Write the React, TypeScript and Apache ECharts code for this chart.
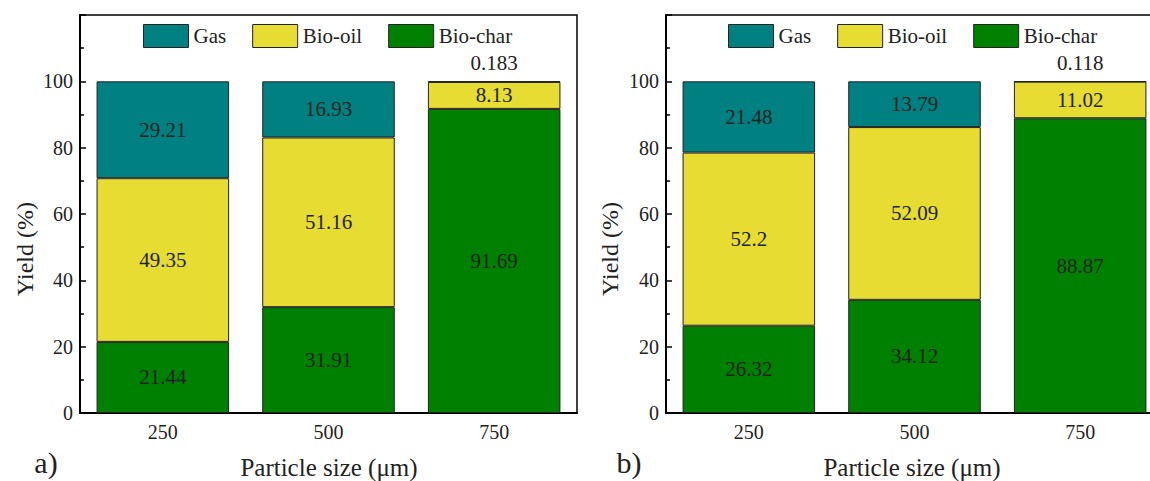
import React, { useEffect, useRef } from "react";
import * as echarts from "echarts";

const categories = ["250", "500", "750"];
const seriesNames = ["Gas", "Bio-oil", "Bio-char"];
const yTicks = [0, 20, 40, 60, 80, 100];

// panel a)
const charA = [21.44, 31.91, 91.69];
const oilA = [49.35, 51.16, 8.13];
const gasA = [29.21, 16.93, 0.183];
// panel b)
const charB = [26.32, 34.12, 88.87];
const oilB = [52.2, 52.09, 11.02];
const gasB = [21.48, 13.79, 0.118];

const COLORS: Record<string, string> = {
  Gas: "#008080",
  "Bio-oil": "#e6dc32",
  "Bio-char": "#008000",
};
const FONT = "Liberation Serif";

function App() {
  const ref = useRef<HTMLDivElement>(null);
  useEffect(() => {
    if (!ref.current) return;
    const chart = echarts.init(ref.current, null, { renderer: "svg" });

    const grids = [
      { left: 80, top: 15, width: 497, height: 398 },
      { left: 666, top: 15, width: 497, height: 398 },
    ];

    const xAxis = grids.map((_, i) => ({
      type: "category",
      gridIndex: i,
      data: categories,
      axisLine: { show: true, lineStyle: { color: "#000", width: 2 } },
      axisTick: { show: false },
      axisLabel: { fontFamily: FONT, fontSize: 20, color: "#222", margin: 9 },
    }));

    const yAxis = grids.map((_, i) => ({
      type: "value",
      gridIndex: i,
      min: 0,
      max: 120,
      interval: 20,
      splitLine: { show: false },
      axisLine: { show: true, lineStyle: { color: "#000", width: 2 } },
      axisTick: { show: true, inside: true, length: 6, lineStyle: { color: "#000", width: 1.5 } },
      minorTick: { show: true, splitNumber: 2, length: 4, lineStyle: { color: "#000", width: 1.5 } },
      axisLabel: {
        fontFamily: FONT,
        fontSize: 20,
        color: "#222",
        margin: 7,
        formatter: (v: number) => (yTicks.includes(v) ? String(v) : ""),
      },
    }));

    const labelBase = {
      show: true,
      position: "inside",
      fontFamily: FONT,
      fontSize: 21,
      color: "#222",
    };

    const mkGas = (arr: number[]) =>
      arr.map((v) =>
        v < 1 ? { value: v, label: { position: "top", distance: 8 } } : v
      );

    const panelData = [
      { char: charA, oil: oilA, gas: gasA },
      { char: charB, oil: oilB, gas: gasB },
    ];

    const series: any[] = [];
    panelData.forEach((p, i) => {
      const common = {
        type: "bar",
        stack: "s" + i,
        xAxisIndex: i,
        yAxisIndex: i,
        barCategoryGap: "20%",
        label: labelBase,
      };
      series.push({
        ...common,
        name: "Bio-char",
        data: p.char,
        itemStyle: { color: COLORS["Bio-char"], borderColor: "#222", borderWidth: 1 },
      });
      series.push({
        ...common,
        name: "Bio-oil",
        data: p.oil,
        itemStyle: { color: COLORS["Bio-oil"], borderColor: "#222", borderWidth: 1 },
      });
      series.push({
        ...common,
        name: "Gas",
        data: mkGas(p.gas),
        itemStyle: { color: COLORS["Gas"], borderColor: "#222", borderWidth: 1 },
      });
    });

    const legends = [143, 728].map((left) => ({
      data: seriesNames,
      left,
      top: 24,
      padding: 0,
      itemWidth: 45,
      itemHeight: 23,
      itemGap: 26,
      icon: "rect",
      selectedMode: false,
      itemStyle: { borderColor: "#222", borderWidth: 1 },
      textStyle: { fontFamily: FONT, fontSize: 21, color: "#222" },
    }));

    const textStyle = (text: string, size: number) => ({
      text,
      fontFamily: FONT,
      fontSize: size,
      fill: "#222",
      textAlign: "center",
      textVerticalAlign: "middle",
    });

    chart.setOption({
      animation: false,
      backgroundColor: "#fff",
      textStyle: { fontFamily: FONT },
      grid: grids.map((g) => ({
        ...g,
        show: true,
        borderColor: "#000",
        borderWidth: 1.5,
        backgroundColor: "transparent",
      })),
      xAxis,
      yAxis,
      legend: legends,
      series,
      graphic: [
        { type: "text", x: 25, y: 249, rotation: Math.PI / 2, style: textStyle("Yield (%)", 24) },
        { type: "text", x: 610, y: 249, rotation: Math.PI / 2, style: textStyle("Yield (%)", 24) },
        { type: "text", x: 329, y: 467, style: textStyle("Particle size (μm)", 25) },
        { type: "text", x: 912, y: 467, style: textStyle("Particle size (μm)", 25) },
        { type: "text", x: 46, y: 462, style: textStyle("a)", 30) },
        { type: "text", x: 629, y: 462, style: textStyle("b)", 30) },
      ],
    });
    return () => chart.dispose();
  }, []);

  return (
    <div style={{ position: "fixed", left: 0, top: 0, width: 1150, height: 481, overflow: "hidden", background: "#fff" }}>
      <div ref={ref} style={{ width: 1175, height: 481 }} />
    </div>
  );
}

export default App;
